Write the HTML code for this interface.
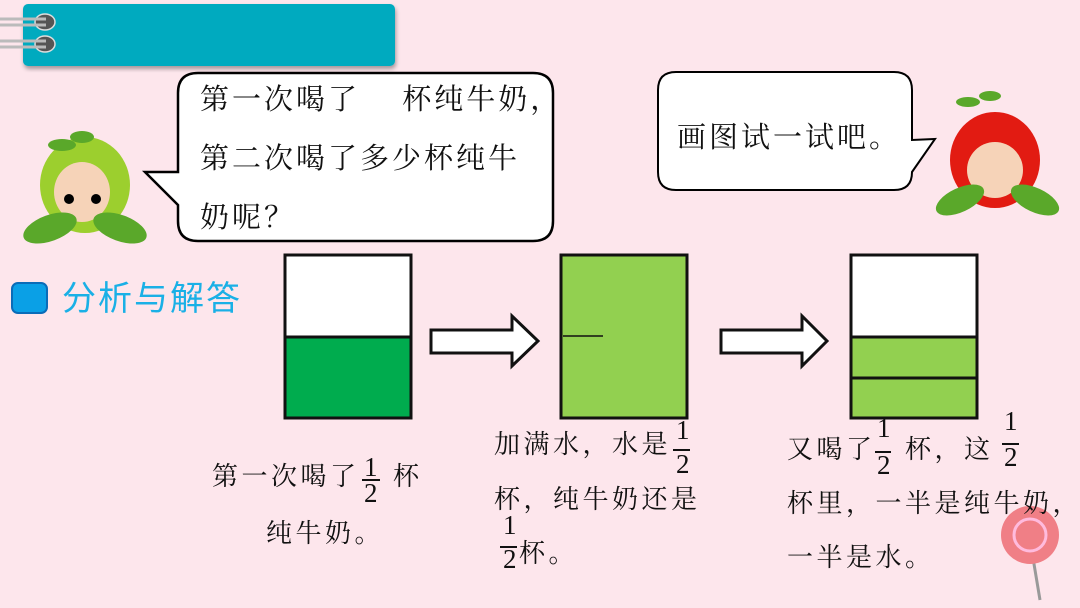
<!DOCTYPE html>
<html><head><meta charset="utf-8"><style>
body{margin:0}
#p{position:relative;width:1080px;height:608px;background:#fde6ec;overflow:hidden;font-family:"Liberation Serif","Noto Serif CJK SC",serif;color:#111}
.t{position:absolute;white-space:nowrap;line-height:1}
.b{font-size:29px;letter-spacing:3px}
.c{font-size:26px;letter-spacing:3.5px}
.n{position:absolute;font-size:27px;line-height:1;font-family:"Liberation Serif",serif}
.fl{position:absolute;height:1.5px;background:#111}
</style></head><body><div id="p">
<svg width="1080" height="608" style="position:absolute;left:0;top:0">
<defs><filter id="s"><feDropShadow dx="1" dy="3" stdDeviation="2" flood-opacity="0.35"/></filter></defs>
<rect x="23" y="4" width="372" height="62" rx="5" fill="#00aabf" filter="url(#s)"/>
<g fill="#555" stroke="#ddd" stroke-width="1.5"><ellipse cx="45" cy="22" rx="10" ry="8"/><ellipse cx="45" cy="44" rx="10" ry="8"/></g>
<g stroke="#bbb" stroke-width="3"><line x1="0" y1="19" x2="46" y2="19"/><line x1="0" y1="25" x2="46" y2="25"/><line x1="0" y1="41" x2="46" y2="41"/><line x1="0" y1="47" x2="46" y2="47"/></g>
<path d="M198 73 H533 Q553 73 553 93 V221 Q553 241 533 241 H198 Q178 241 178 221 V205 L145 172 H178 V93 Q178 73 198 73Z" fill="#fff" stroke="#000" stroke-width="2.5"/>
<path d="M676 72 H894 Q912 72 912 90 V140 L935 139 L912 172 Q912 190 894 190 H676 Q658 190 658 172 V90 Q658 72 676 72Z" fill="#fff" stroke="#000" stroke-width="2"/>
<ellipse cx="85" cy="185" rx="45" ry="48" fill="#9ccf2e"/>
<ellipse cx="82" cy="192" rx="28" ry="30" fill="#f6d3b8"/>
<ellipse cx="50" cy="228" rx="28" ry="13" fill="#5aa82a" transform="rotate(-20 50 228)"/>
<ellipse cx="120" cy="228" rx="28" ry="13" fill="#5aa82a" transform="rotate(20 120 228)"/>
<ellipse cx="62" cy="145" rx="14" ry="6" fill="#5aa82a"/><ellipse cx="82" cy="137" rx="12" ry="6" fill="#5aa82a"/>
<circle cx="69" cy="199" r="5" fill="#000"/><circle cx="96" cy="199" r="5" fill="#000"/>
<ellipse cx="995" cy="160" rx="45" ry="48" fill="#e21b12"/>
<ellipse cx="995" cy="170" rx="28" ry="28" fill="#f6d3b8"/>
<ellipse cx="960" cy="200" rx="26" ry="12" fill="#5aa82a" transform="rotate(-25 960 200)"/>
<ellipse cx="1035" cy="200" rx="26" ry="12" fill="#5aa82a" transform="rotate(25 1035 200)"/>
<ellipse cx="968" cy="102" rx="12" ry="5" fill="#5aa82a"/><ellipse cx="990" cy="96" rx="11" ry="5" fill="#5aa82a"/>
<rect x="12" y="283" width="35" height="30" rx="6" fill="#0aa0e6" stroke="#0a6cb8" stroke-width="2"/>
<rect x="285" y="255" width="126" height="82" fill="#fff"/>
<rect x="285" y="337" width="126" height="81" fill="#00ac4e"/>
<rect x="285" y="255" width="126" height="163" fill="none" stroke="#111" stroke-width="3"/>
<line x1="285" y1="337" x2="411" y2="337" stroke="#111" stroke-width="3"/>
<path d="M431 330 H512 V316 L538 341 L512 366 V353 H431Z" fill="#fff" stroke="#111" stroke-width="3"/>
<rect x="561" y="255" width="126" height="163" fill="#92d050" stroke="#111" stroke-width="3"/>
<line x1="563" y1="336" x2="603" y2="336" stroke="#111" stroke-width="1.5"/>
<path d="M721 330 H802 V316 L827 341 L802 366 V353 H721Z" fill="#fff" stroke="#111" stroke-width="3"/>
<rect x="851" y="255" width="126" height="82" fill="#fff"/>
<rect x="851" y="337" width="126" height="81" fill="#92d050"/>
<rect x="851" y="255" width="126" height="163" fill="none" stroke="#111" stroke-width="3"/>
<line x1="851" y1="337" x2="977" y2="337" stroke="#111" stroke-width="3"/>
<line x1="851" y1="378" x2="977" y2="378" stroke="#111" stroke-width="3"/>
<line x1="1030" y1="540" x2="1040" y2="600" stroke="#999" stroke-width="3"/>
<circle cx="1030" cy="535" r="29" fill="#f07f86"/>
<circle cx="1030" cy="535" r="16" fill="none" stroke="#fbd" stroke-width="3"/>
</svg>
<div class="t b" style="left:200px;top:86px">第一次喝了　 杯纯牛奶，</div>
<div class="t b" style="left:200px;top:145px">第二次喝了多少杯纯牛</div>
<div class="t b" style="left:200px;top:204px">奶呢？</div>
<div class="t b" style="left:677px;top:124px">画图试一试吧。</div>
<div class="t" style="left:62px;top:282px;font-size:34px;letter-spacing:2px;color:#1ab0e6;font-family:'Liberation Sans','Noto Sans CJK SC',sans-serif">分析与解答</div>

<div class="t c" style="left:212px;top:464px">第一次喝了</div>
<div class="n" style="left:364px;top:454px">1</div><div class="fl" style="left:362px;top:479px;width:18px"></div><div class="n" style="left:364px;top:480px">2</div>
<div class="t c" style="left:393px;top:464px">杯</div>
<div class="t c" style="left:266px;top:521px">纯牛奶。</div>

<div class="t c" style="left:494px;top:432px">加满水，水是</div>
<div class="n" style="left:676px;top:417px">1</div><div class="fl" style="left:673px;top:449px;width:17px"></div><div class="n" style="left:676px;top:451px">2</div>
<div class="t c" style="left:494px;top:487px">杯，纯牛奶还是</div>
<div class="n" style="left:503px;top:512px">1</div><div class="fl" style="left:500px;top:546px;width:17px"></div><div class="n" style="left:503px;top:546px">2</div>
<div class="t c" style="left:519px;top:541px">杯。</div>

<div class="t c" style="left:787px;top:437px">又喝了</div>
<div class="n" style="left:877px;top:415px">1</div><div class="fl" style="left:875px;top:451px;width:16px"></div><div class="n" style="left:877px;top:452px">2</div>
<div class="t c" style="left:905px;top:437px">杯，这</div>
<div class="n" style="left:1004px;top:408px">1</div><div class="fl" style="left:1002px;top:443px;width:17px"></div><div class="n" style="left:1004px;top:444px">2</div>
<div class="t c" style="left:787px;top:491px">杯里，一半是纯牛奶，</div>
<div class="t c" style="left:787px;top:545px">一半是水。</div>
</div></body></html>
